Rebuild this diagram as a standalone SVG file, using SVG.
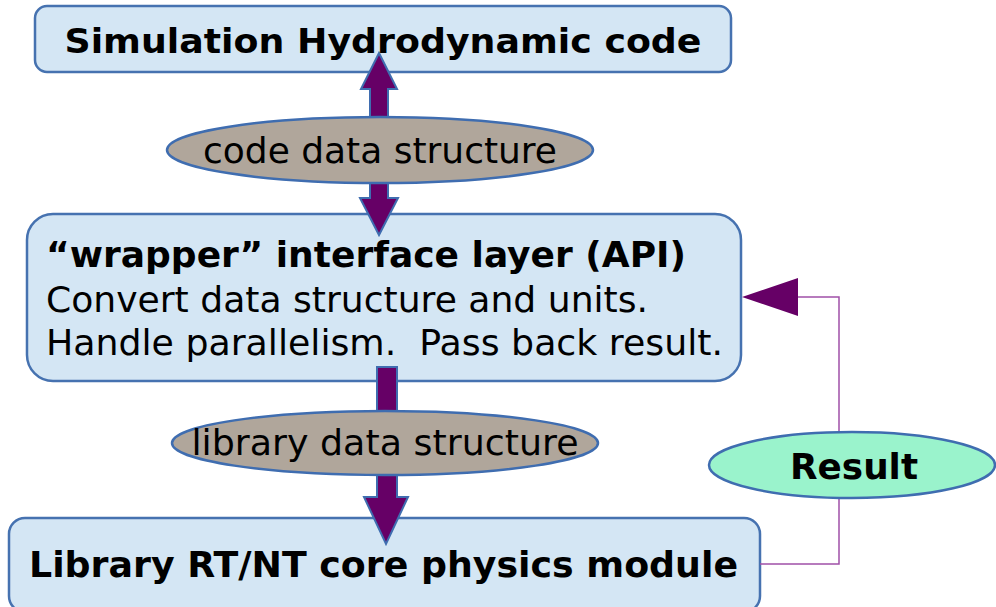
<svg xmlns="http://www.w3.org/2000/svg" width="996" height="607" viewBox="0 0 996 607">
<defs>
<style>
.box{fill:#d4e6f4;stroke:#4672b0;stroke-width:2.5}
.oval{fill:#b0a69b;stroke:#3f6db0;stroke-width:2.5}
.res{fill:#9af3cc;stroke:#3f6db0;stroke-width:2.5}
.fat{fill:#660066;stroke:#3f6db0;stroke-width:2;stroke-linejoin:miter}
.thin{fill:none;stroke:#a050a8;stroke-width:1.5}
.head{fill:#660066;stroke:none}
.b{font-family:"DejaVu Sans","Liberation Sans",sans-serif;font-weight:bold;fill:#000}
.n{font-family:"DejaVu Sans","Liberation Sans",sans-serif;fill:#000}
</style>
</defs>
<rect width="996" height="607" fill="#ffffff"/>
<g id="node-hydro">
<rect class="box" x="35" y="6" width="696" height="66" rx="12"/>
</g>
<g id="node-wrapper">
<rect class="box" x="27" y="214" width="714" height="167" rx="26"/>
</g>
<g id="node-library">
<rect class="box" x="9" y="518" width="751" height="94" rx="16"/>
</g>
<g id="connectors">
<polygon class="fat" points="379,53 397,89 388,89 388,198 398,198 379,235 360,198 370,198 370,89 361,89"/>
<polygon class="fat" points="377,367 397,367 397,497 408,497 386,544 364,497 377,497"/>
<polyline class="thin" points="760,564 839,564 839,297 796,297"/>
<polygon class="head" points="742,297 798,278 798,316"/>
</g>
<g id="node-code-ds">
<ellipse class="oval" cx="380" cy="150" rx="213" ry="33"/>
<text class="n" x="380" y="163" font-size="36" text-anchor="middle" textLength="354" lengthAdjust="spacingAndGlyphs">code data structure</text>
</g>
<g id="node-lib-ds">
<ellipse class="oval" cx="385" cy="443" rx="213" ry="32"/>
<text class="n" x="385" y="455" font-size="36" text-anchor="middle" textLength="387" lengthAdjust="spacingAndGlyphs">library data structure</text>
</g>
<g id="node-result">
<ellipse class="res" cx="852" cy="465" rx="143" ry="33"/>
<text class="b" x="854" y="479" font-size="36" text-anchor="middle" textLength="128" lengthAdjust="spacingAndGlyphs">Result</text>
</g>
<g id="labels">
<text class="b" x="383" y="53" font-size="34" text-anchor="middle" textLength="637" lengthAdjust="spacingAndGlyphs">Simulation Hydrodynamic code</text>
<text class="b" x="46" y="267" font-size="35" textLength="640" lengthAdjust="spacingAndGlyphs">“wrapper” interface layer (API)</text>
<text class="n" x="46" y="312" font-size="36" textLength="602" lengthAdjust="spacingAndGlyphs">Convert data structure and units.</text>
<text class="n" x="46" y="355" font-size="36" textLength="677" lengthAdjust="spacingAndGlyphs" xml:space="preserve">Handle parallelism.  Pass back result.</text>
<text class="b" x="29" y="577" font-size="36" textLength="709" lengthAdjust="spacingAndGlyphs">Library RT/NT core physics module</text>
</g>
</svg>
